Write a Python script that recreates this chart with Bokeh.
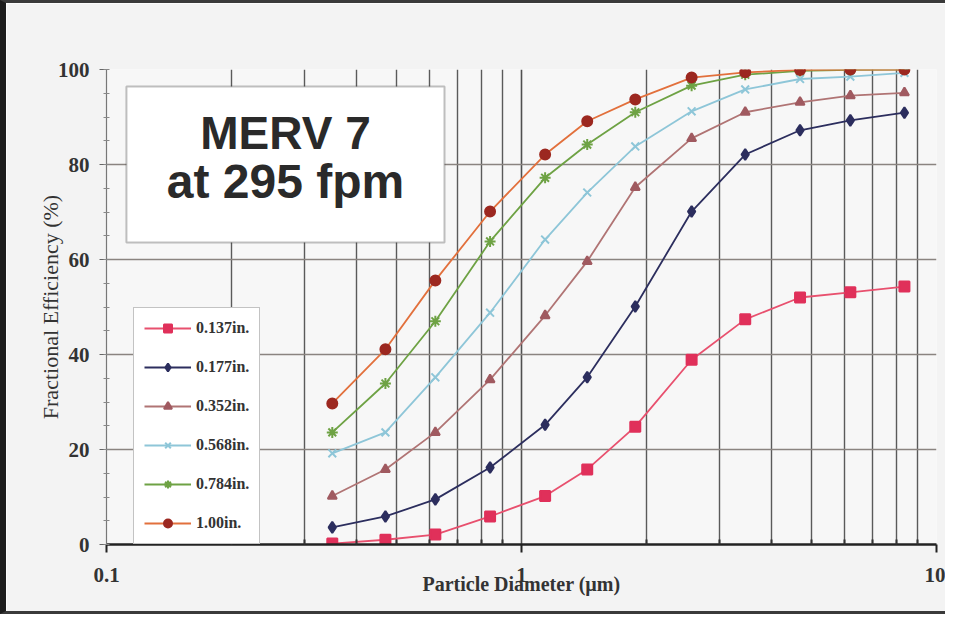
import math
from bokeh.plotting import figure
from bokeh.models import (FixedTicker, Legend, LegendItem, BoxAnnotation, Label)
from bokeh.embed import file_html
from bokeh.resources import INLINE

# ---- data ----
diameter = [0.35, 0.47, 0.62, 0.84, 1.14, 1.44, 1.88, 2.57, 3.46, 4.69, 6.20, 8.37]
eff_0137 = [0.2, 1.0, 2.1, 5.9, 10.2, 15.8, 24.8, 38.9, 47.4, 52.0, 53.1, 54.3]
eff_0177 = [3.6, 5.9, 9.5, 16.2, 25.2, 35.2, 50.1, 70.1, 82.1, 87.2, 89.3, 90.9]
eff_0352 = [10.2, 15.8, 23.6, 34.7, 48.2, 59.6, 75.2, 85.5, 91.0, 93.1, 94.5, 95.1]
eff_0568 = [19.2, 23.6, 35.2, 48.8, 64.2, 74.1, 83.8, 91.2, 95.8, 98.0, 98.5, 99.3]
eff_0784 = [23.6, 33.9, 47.0, 63.8, 77.2, 84.2, 91.0, 96.6, 98.9, 99.7, 99.9, 100.0]
eff_100 = [29.7, 41.1, 55.6, 70.1, 82.1, 89.1, 93.7, 98.3, 99.4, 99.9, 100.0, 100.0]
series_labels = ["0.137in.", "0.177in.", "0.352in.", "0.568in.", "0.784in.", "1.00in."]
x_ticks = [0.1, 1, 10]
y_ticks = [0, 20, 40, 60, 80, 100]
title_lines = ["MERV 7", "at 295 fpm"]
x_title = "Particle Diameter (\u00b5m)"
y_title = "Fractional Efficiency (%)"

SERIF = "Liberation Serif"
SANS = "Liberation Sans"

p = figure(width=945, height=614, x_axis_type="log",
           x_range=(0.1, 10), y_range=(0, 100),
           output_backend="svg", toolbar_location=None,
           min_border_left=100, min_border_right=15,
           min_border_top=66, min_border_bottom=73)
p.background_fill_color = "#f7f7f7"
p.border_fill_color = "#f3f3f3"
p.outline_line_color = None
p.styles = {"border-left": "6px solid #1c1c1c", "border-top": "3px solid #3a3a3a",
            "border-bottom": "3px solid #3a3a3a"}

minor_x = [m * d for d in (0.1, 1) for m in range(2, 10)]
p.xaxis.ticker = FixedTicker(ticks=x_ticks, minor_ticks=minor_x)
p.xaxis.major_label_overrides = {0.1: "0.1", 1: "1", 10: "10"}
p.yaxis.ticker = FixedTicker(ticks=y_ticks, minor_ticks=list(range(0, 101, 5)))

for ax in (p.xaxis, p.yaxis):
    ax.major_label_text_font = SERIF
    ax.major_label_text_font_style = "bold"
    ax.major_label_text_font_size = "21px"
    ax.major_label_text_color = "#333333"

p.xaxis.axis_line_color = "#222222"
p.xaxis.axis_line_width = 2.5
p.xaxis.major_tick_line_color = "#222222"
p.xaxis.major_tick_line_width = 2
p.xaxis.major_tick_in = 0
p.xaxis.major_tick_out = 8
p.xaxis.minor_tick_line_color = "#333333"
p.xaxis.minor_tick_line_width = 2
p.xaxis.minor_tick_in = 5
p.xaxis.minor_tick_out = 0
p.xaxis.major_label_standoff = 15
p.xaxis.axis_label = x_title
p.xaxis.axis_label_text_font = SERIF
p.xaxis.axis_label_text_font_style = "bold"
p.xaxis.axis_label_text_font_size = "20px"
p.xaxis.axis_label_text_color = "#333333"
p.xaxis.axis_label_standoff = -12

p.yaxis.axis_line_color = "#777777"
p.yaxis.axis_line_width = 1.2
p.yaxis.major_tick_line_color = "#666666"
p.yaxis.major_tick_in = 0
p.yaxis.major_tick_out = 7
p.yaxis.minor_tick_line_color = "#888888"
p.yaxis.minor_tick_in = 3
p.yaxis.minor_tick_out = 3
p.yaxis.major_label_standoff = 10
p.yaxis.axis_label = y_title
p.yaxis.axis_label_text_font = SERIF
p.yaxis.axis_label_text_font_style = "normal"
p.yaxis.axis_label_text_font_size = "22px"
p.yaxis.axis_label_text_color = "#333333"
p.yaxis.axis_label_standoff = -8

p.xgrid.grid_line_color = "#505050"
p.xgrid.grid_line_width = 1.6
p.xgrid.minor_grid_line_color = "#5a5a5a"
p.xgrid.minor_grid_line_width = 1.4
p.ygrid.grid_line_color = "#8a8480"
p.ygrid.grid_line_width = 1.6

styles = [
    dict(line="#e8506e", fill="#e0305a", marker="square", size=10),
    dict(line="#2c2e5e", fill="#2c2e5e", marker="diamond", size=11),
    dict(line="#b07474", fill="#a05a60", marker="triangle", size=9),
    dict(line="#8ec6d8", fill="#8ec6d8", marker="x", size=11),
    dict(line="#6ea244", fill="#6ea244", marker="asterisk", size=11),
    dict(line="#e2703c", fill="#9c2820", marker="circle", size=10),
]
all_series = [eff_0137, eff_0177, eff_0352, eff_0568, eff_0784, eff_100]

items = []
for lab, ys, st in zip(series_labels, all_series, styles):
    r1 = p.line(diameter, ys, line_color=st["line"], line_width=1.8)
    r2 = p.scatter(diameter, ys, marker=st["marker"], size=st["size"],
                   fill_color=st["fill"], line_color=st["fill"], line_width=2)
    items.append(LegendItem(label=lab, renderers=[r1, r2]))

legend = Legend(items=items, location=(27, 0))
legend.glyph_width = 47
legend.glyph_height = 20
legend.label_height = 20
legend.spacing = 19
legend.padding = 10
legend.margin = 0
legend.label_standoff = 5
legend.label_text_font = SERIF
legend.label_text_font_style = "bold"
legend.label_text_font_size = "16px"
legend.label_text_color = "#333333"
legend.border_line_color = "#888888"
legend.border_line_width = 1.5
legend.background_fill_color = "white"
legend.background_fill_alpha = 1.0
p.add_layout(legend, "center")

# title box
box = BoxAnnotation(left=0.1117, right=0.6523, bottom=63.6, top=96.4,
                    fill_color="white", fill_alpha=1.0,
                    line_color="#333333", line_width=2)
p.add_layout(box)
for txt, yy, fs in zip(title_lines, [86.7, 76.4], ["46px", "48px"]):
    p.add_layout(Label(x=0.27, y=yy, text=txt, text_align="center",
                       text_baseline="middle", text_font=SANS,
                       text_font_style="bold", text_font_size=fs,
                       text_color="#2a2a2a"))

open("out.html", "w").write(file_html(p, INLINE))
